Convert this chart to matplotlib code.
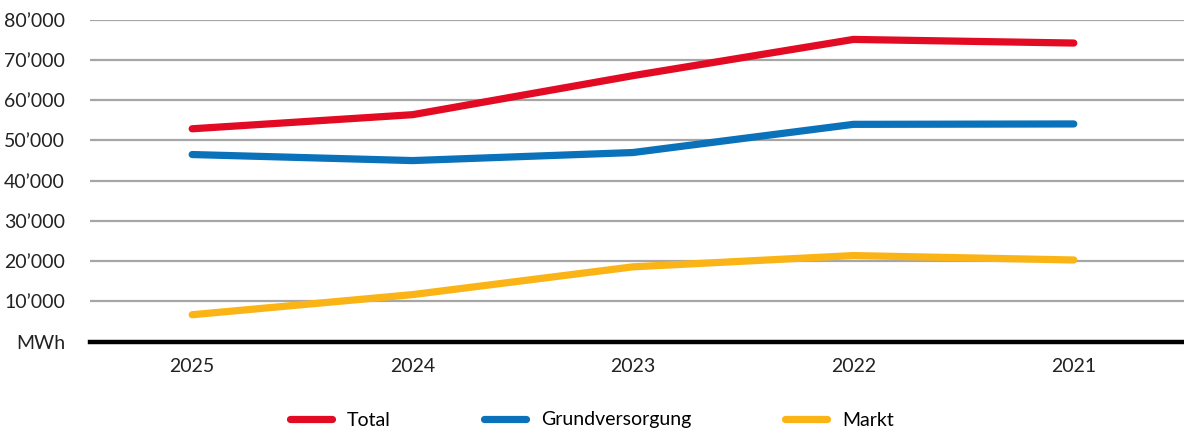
import matplotlib
matplotlib.use("Agg")
import matplotlib.pyplot as plt
from matplotlib.ticker import FuncFormatter

plt.rcParams['font.family'] = ['Lato', 'DejaVu Sans']

# data (MWh)
years = ['2025', '2024', '2023', '2022', '2021']
total = [52900, 56400, 66100, 75100, 74200]
grundversorgung = [46500, 45000, 47000, 54000, 54100]
markt = [6700, 11700, 18600, 21400, 20300]

series_names = ['Total', 'Grundversorgung', 'Markt']
colors = ['#E30A23', '#0A72BA', '#FBB415']

fig = plt.figure(figsize=(11.84, 4.30), dpi=100)
ax = fig.add_axes([90 / 1184, 88.3 / 430, 1 - 90 / 1184, (341.7 - 19.7) / 430])

x = list(range(len(years)))
for vals, name, c in zip([total, grundversorgung, markt], series_names, colors):
    ax.plot(x, vals, color=c, lw=5.2, label=name,
            solid_capstyle='round', solid_joinstyle='round', zorder=3)

ax.set_ylim(0, 80000)
ax.set_xlim(-0.4636, 4.5)
ax.set_yticks(range(0, 80001, 10000))
ax.set_xticks(x)
ax.set_xticklabels(years)


def fmt(v, pos):
    if v == 0:
        return 'MWh'
    return f"{int(v):,}".replace(',', '\u2019')


ax.yaxis.set_major_formatter(FuncFormatter(fmt))
ax.grid(axis='y', color='#a6a6a6', lw=1.6)
ax.set_axisbelow(True)
for s in ['top', 'right', 'left']:
    ax.spines[s].set_visible(False)
ax.spines['bottom'].set_linewidth(3.2)
ax.spines['bottom'].set_color('black')
ax.spines['bottom'].set_zorder(4)
ax.tick_params(axis='y', length=0, pad=18, labelsize=14, labelcolor='#222222')
ax.tick_params(axis='x', length=0, pad=12, labelsize=14, labelcolor='#222222')

fig.legend(loc='center', bbox_to_anchor=(0.5, 10 / 430), ncol=3, frameon=False,
           fontsize=14, handlelength=2.16, handletextpad=0.77, columnspacing=4.8)

fig.savefig('out.png', dpi=100)
